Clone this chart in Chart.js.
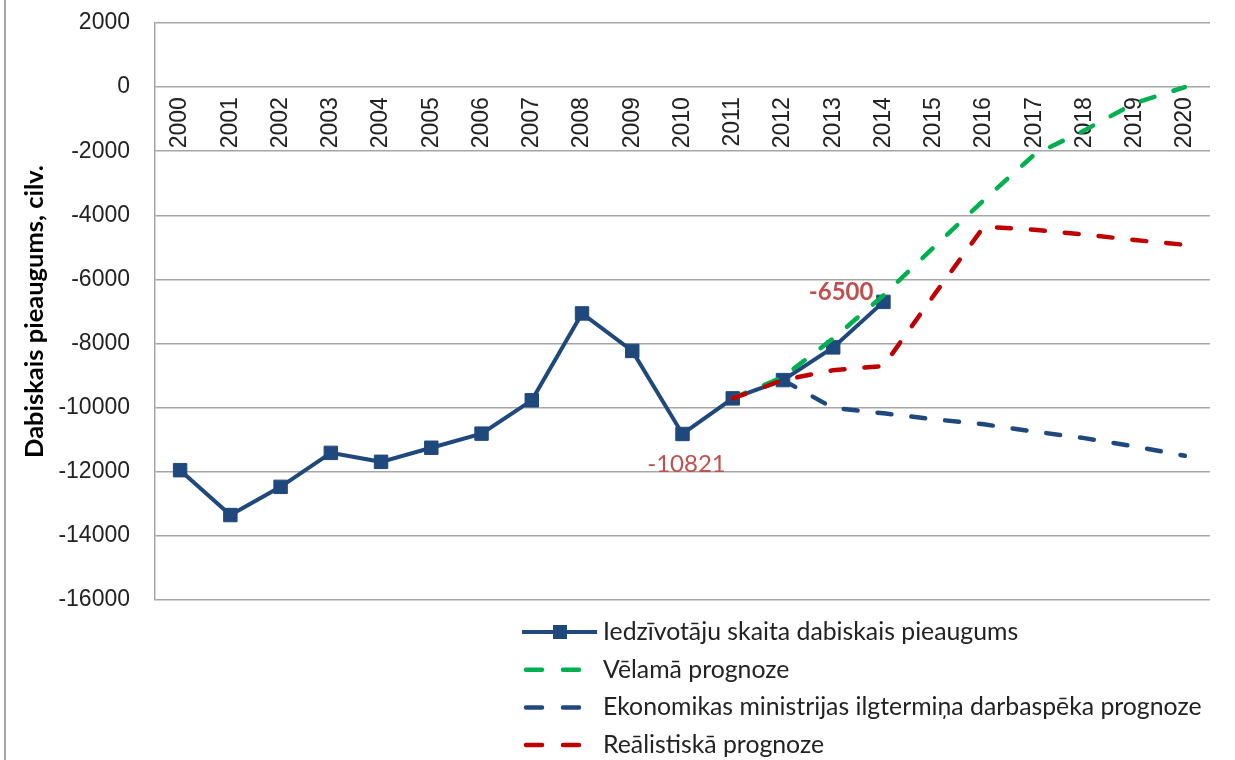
<!DOCTYPE html>
<html>
<head>
<meta charset="utf-8">
<script src="https://cdn.jsdelivr.net/npm/chart.js@4"></script>
<style>
  body { margin: 0; background: #fff; }
  #wrap { position: relative; width: 1235px; height: 760px; }
  #frame { position: absolute; left: 4px; top: 0; width: 2px; height: 760px; background: #a6a6a6; }
  canvas { position: absolute; left: 0; top: 0; }
</style>
</head>
<body>
<div id="wrap">
  <div id="frame"></div>
  <canvas id="myChart" width="1235" height="760"></canvas>
</div>
<script>
var years = ["2000", "2001", "2002", "2003", "2004", "2005", "2006", "2007", "2008", "2009", "2010",
             "2011", "2012", "2013", "2014", "2015", "2016", "2017", "2018", "2019", "2020"];

// faktiskais dabiskais pieaugums 2000-2014
var actual = [-11950, -13350, -12470, -11410, -11690, -11250, -10810, -9770, -7060, -8230, -10821,
              -9710, -9140, -8120, -6700];

// prognozes 2011-2020 (iepriekšējie gadi tukši)
var desired = [null, null, null, null, null, null, null, null, null, null, null,
               -9710, -9040, -7840, -6500, -5000, -3520, -2110, -1350, -500, 0];
var ministry = [null, null, null, null, null, null, null, null, null, null, null,
                null, -9140, -10010, -10175, -10360, -10520, -10745, -10950, -11210, -11500];
var realistic = [null, null, null, null, null, null, null, null, null, null, null,
                 -9710, -9140, -8830, -8700, -6500, -4350, -4450, -4600, -4770, -4920];

var seriesNames = ["Iedzīvotāju skaita dabiskais pieaugums", "Vēlamā prognoze",
                   "Ekonomikas ministrijas ilgtermiņa darbaspēka prognoze", "Reālistiskā prognoze"];

var yTicks = [2000, 0, -2000, -4000, -6000, -8000, -10000, -12000, -14000, -16000];

// which points get a value label: [dataset, index]
var labelSeries = [0, 1];
var labelIndex = [10, 14];

var txt = "#222222";
var labelRed = "#c0504d";

// legend in one column under the plot (Excel style)
var rowLegend = {
  id: "rowLegend",
  afterDraw: function(chart) {
    var ctx = chart.ctx;
    ctx.save();
    chart.data.datasets.forEach(function(ds, i) {
      var y = 632 + i * 37.7;
      ctx.strokeStyle = ds.borderColor;
      ctx.lineWidth = ds.borderWidth;
      ctx.lineCap = ds.borderDash ? "round" : "butt";
      ctx.setLineDash(ds.borderDash ? [16, 21] : []);
      ctx.beginPath();
      if (ds.borderDash) {
        ctx.moveTo(526, y);
        ctx.lineTo(580, y);
      } else {
        ctx.moveTo(522, y);
        ctx.lineTo(597, y);
      }
      ctx.stroke();
      ctx.setLineDash([]);
      if (!ds.borderDash) {
        ctx.fillStyle = ds.borderColor;
        ctx.fillRect(553, y - 7, 14, 14);
      }
      ctx.fillStyle = txt;
      ctx.font = "24.8px Lato";
      ctx.textAlign = "left";
      ctx.textBaseline = "middle";
      ctx.fillText(ds.label, 603, y);
    });
    ctx.restore();
  }
};

var valueLabels = {
  id: "valueLabels",
  afterDatasetsDraw: function(chart) {
    var ctx = chart.ctx;
    ctx.save();
    ctx.fillStyle = labelRed;
    ctx.textBaseline = "middle";
    for (var k = 0; k < labelSeries.length; k++) {
      var s = labelSeries[k], j = labelIndex[k];
      var pt = chart.getDatasetMeta(s).data[j];
      var v = chart.data.datasets[s].data[j];
      if (k == 0) {
        ctx.font = "24px Lato";
        ctx.textAlign = "center";
        ctx.fillText(String(v), pt.x + 4, pt.y + 30);
      } else {
        ctx.font = "bold 24px Lato";
        ctx.textAlign = "right";
        ctx.fillText(String(v), pt.x - 10, pt.y - 3);
      }
    }
    ctx.restore();
  }
};

new Chart("myChart", {
  type: "line",
  data: {
    labels: years,
    datasets: [{
      label: seriesNames[0],
      data: actual,
      borderColor: "#1f497d",
      backgroundColor: "#1f497d",
      borderWidth: 4,
      pointStyle: "rect",
      pointRadius: 9.5,
      pointBorderWidth: 1,
      order: 4
    }, {
      label: seriesNames[1],
      data: desired,
      borderColor: "#00b050",
      borderWidth: 4.5,
      borderDash: [14, 20],
      borderCapStyle: "round",
      pointRadius: 0,
      order: 2
    }, {
      label: seriesNames[2],
      data: ministry,
      borderColor: "#1f497d",
      borderWidth: 4.5,
      borderDash: [14, 20],
      borderCapStyle: "round",
      pointRadius: 0,
      order: 3
    }, {
      label: seriesNames[3],
      data: realistic,
      borderColor: "#c00000",
      borderWidth: 4.5,
      borderDash: [14, 20],
      borderCapStyle: "round",
      pointRadius: 0,
      order: 1
    }]
  },
  options: {
    responsive: false,
    animation: false,
    layout: { padding: { left: 0, top: 23, right: 25, bottom: 160 } },
    plugins: {
      legend: { display: false },
      tooltip: { enabled: false }
    },
    scales: {
      x: {
        position: { y: 0 },
        offset: true,
        grid: { display: false, offset: true },
        border: { display: false },
        ticks: {
          color: txt,
          font: { family: "Liberation Sans", size: 23 },
          minRotation: 90,
          maxRotation: 90,
          autoSkip: false,
          padding: 2
        }
      },
      y: {
        min: -16000,
        max: 2000,
        afterFit: function(scale) { scale.width = 155; },
        afterBuildTicks: function(scale) {
          scale.ticks = yTicks.map(function(v) { return { value: v }; });
        },
        grid: { color: "#a6a6a6", lineWidth: 1.5, tickLength: 25, tickColor: "rgba(0,0,0,0)" },
        border: { color: "#a6a6a6", width: 1.5 },
        ticks: {
          color: txt,
          font: { family: "Liberation Sans", size: 23 },
          padding: 0,
          callback: function(v) { return String(v); }
        },
        title: {
          display: true,
          text: "Dabiskais pieaugums, cilv.",
          color: "#000",
          font: { family: "Lato", size: 25.5, weight: "bold" },
          padding: { top: 19, bottom: 0 }
        }
      }
    }
  },
  plugins: [rowLegend, valueLabels]
});
</script>
</body>
</html>
